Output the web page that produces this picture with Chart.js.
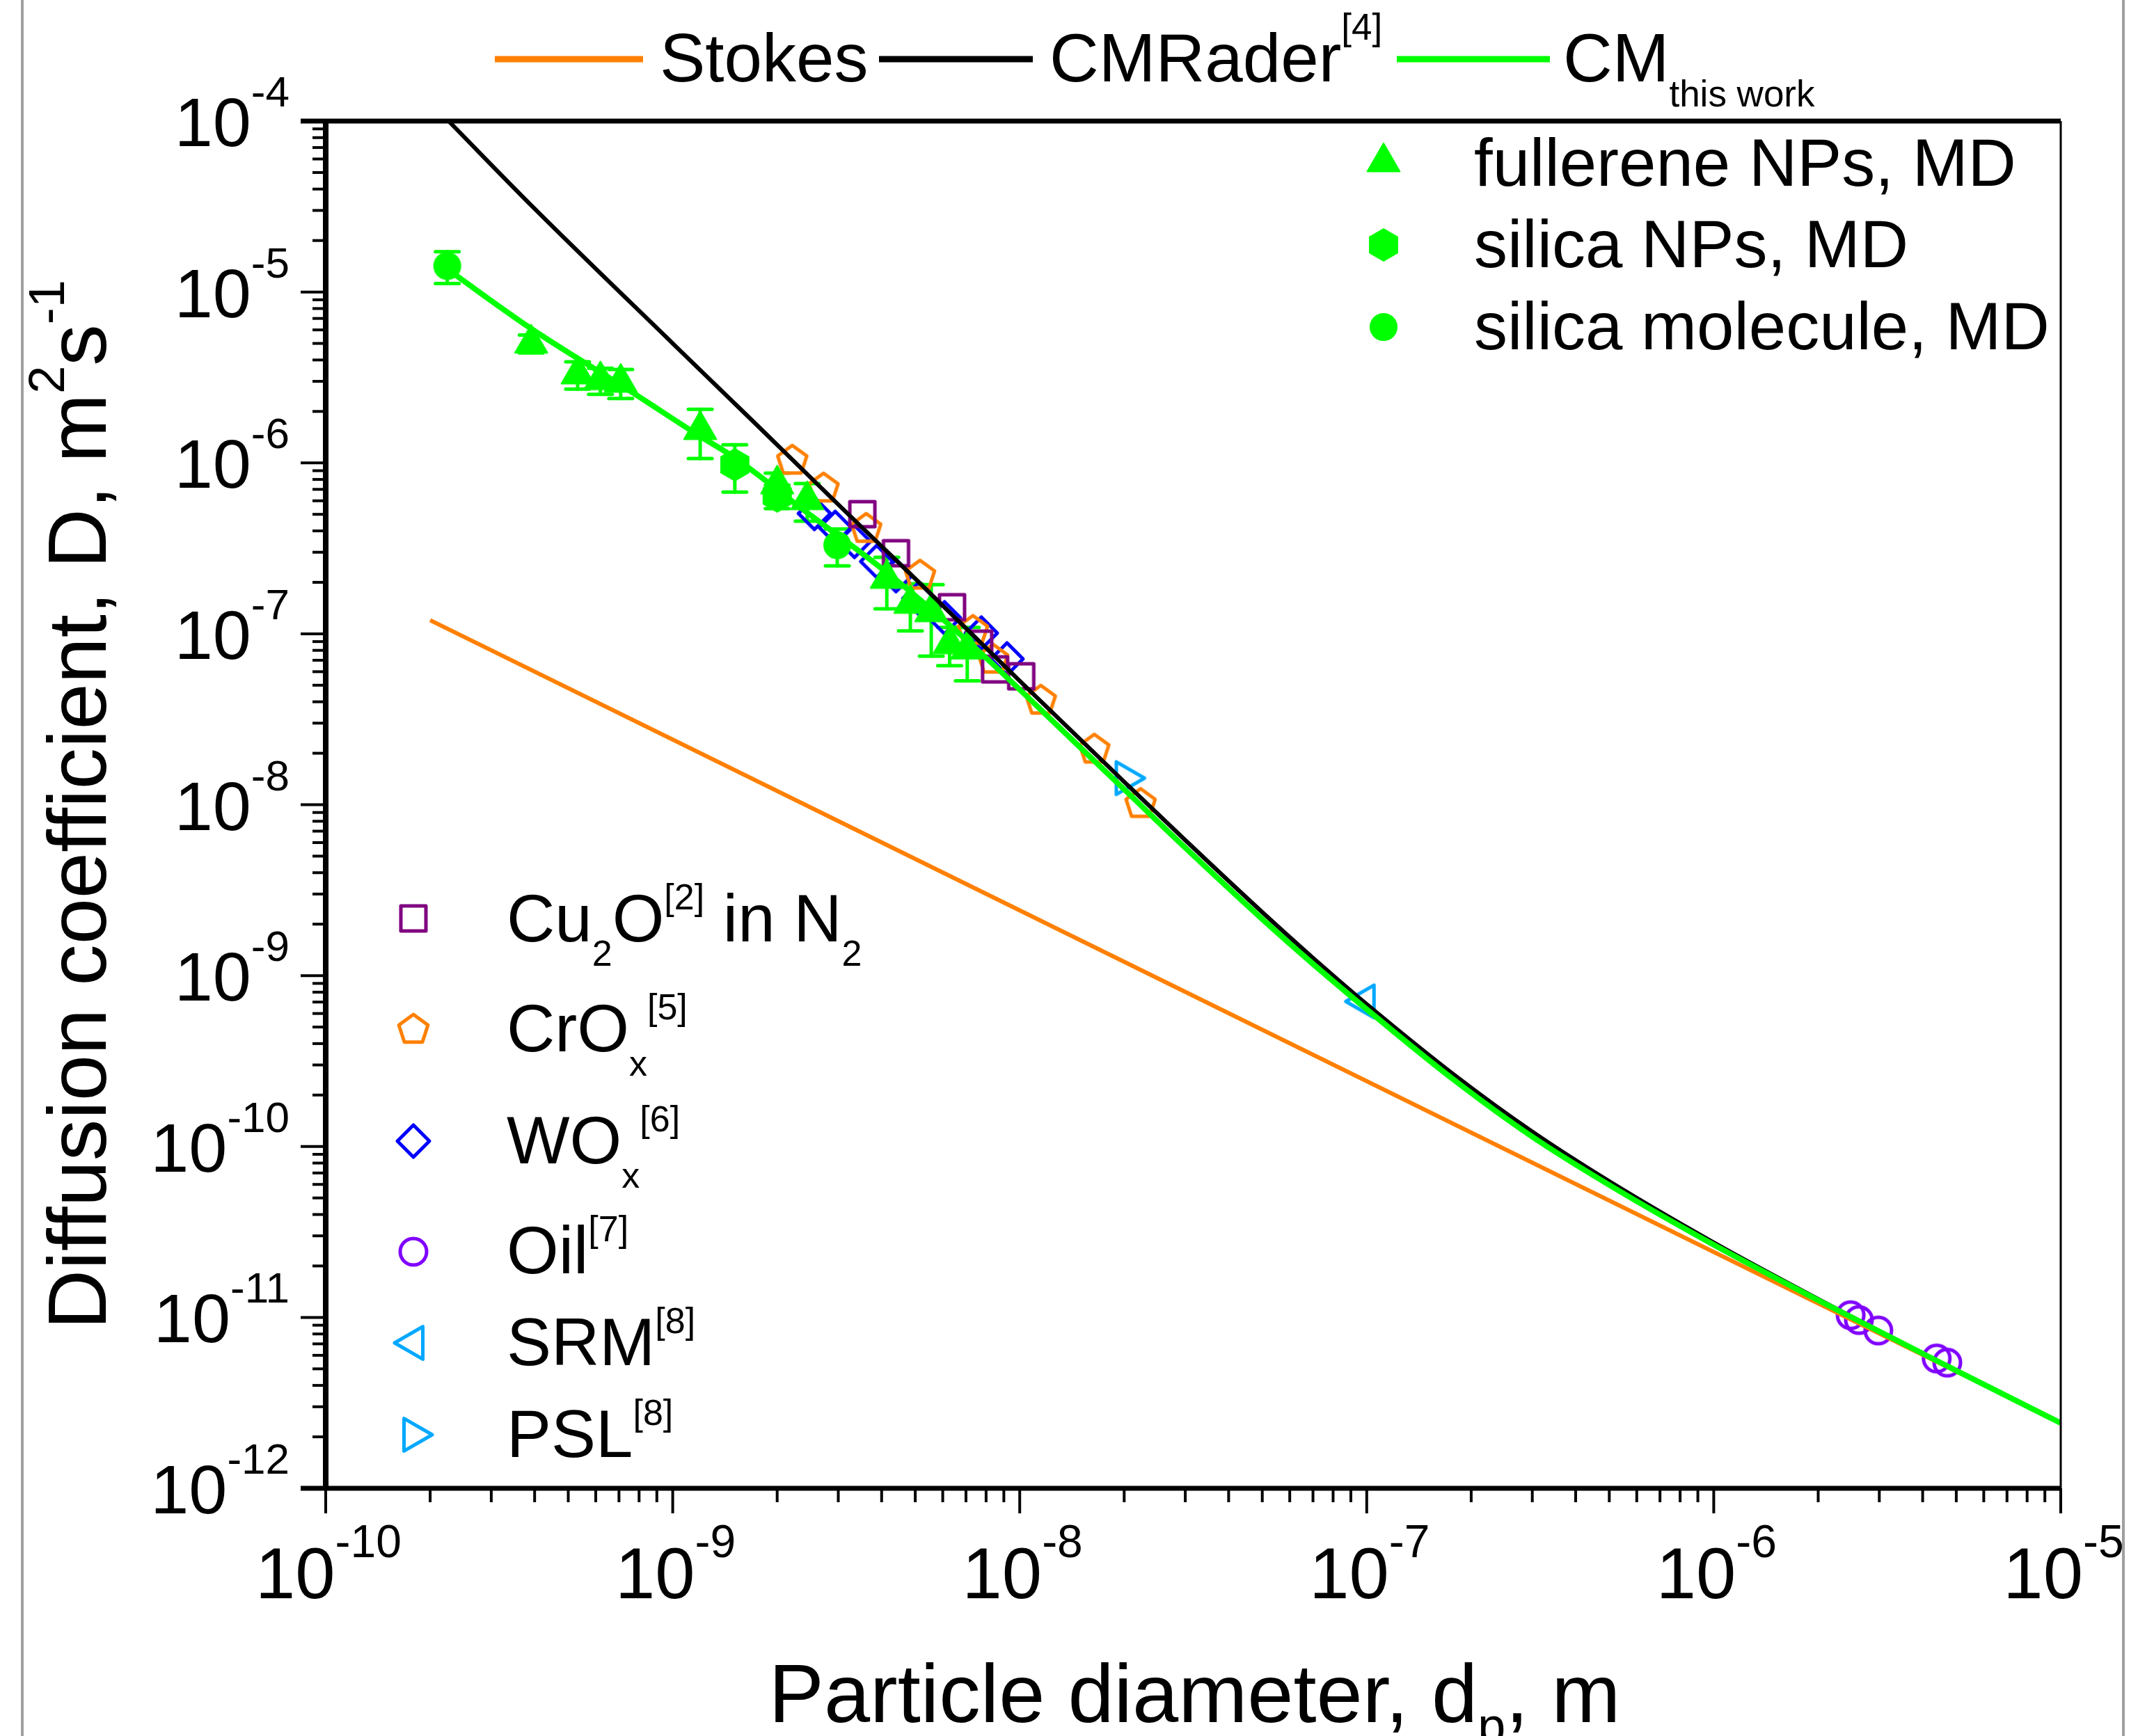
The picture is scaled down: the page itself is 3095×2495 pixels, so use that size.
<!DOCTYPE html>
<html>
<head>
<meta charset="utf-8">
<script src="https://cdn.jsdelivr.net/npm/chart.js@4.4.1/dist/chart.umd.min.js"></script>
<style>
  html, body { margin: 0; padding: 0; background: #fff; }
  #wrap { width: 3095px; height: 2495px; position: relative; }
</style>
</head>
<body>
<div id="wrap"><canvas id="myChart"></canvas></div>
<script>
// ---- values (d in m, D in m2/s) ----
const stokesD = [2.0e-10, 1.0e-5];
const stokesDiff = [1.2e-7, 2.42e-12];

const raderD = [2.26e-10, 3.98e-10, 1.0e-9, 1.69e-9, 3.0e-9, 5.0e-9, 1.0e-8, 2.0e-8, 3.0e-8, 5.0e-8, 7.0e-8, 1.0e-7, 1.82e-7, 3.0e-7, 5.0e-7, 1.0e-6, 2.0e-6, 5.0e-6, 1.0e-5];
const raderDiff = [1.0e-4, 3.1e-5, 5.0e-6, 1.78e-6, 5.7e-7, 2.1e-7, 5.3e-8, 1.36e-8, 6.2e-9, 2.35e-9, 1.27e-9, 6.8e-10, 2.55e-10, 1.22e-10, 6.25e-11, 2.74e-11, 1.28e-11, 4.9e-12, 2.42e-12];

const cmD = [2.24e-10, 3.91e-10, 7.59e-10, 1.18e-9, 1.51e-9, 2.3e-9, 4.25e-9, 7.4e-9, 1.41e-8, 2.0e-8, 3.0e-8, 5.0e-8, 7.0e-8, 1.0e-7, 1.74e-7, 3.0e-7, 5.0e-7, 1.0e-6, 2.0e-6, 5.0e-6, 1.0e-5];
const cmDiff = [1.36e-5, 6.1e-6, 2.61e-6, 1.46e-6, 1.07e-6, 5.6e-7, 2.19e-7, 8.35e-8, 2.42e-8, 1.23e-8, 5.6e-9, 2.14e-9, 1.17e-9, 6.35e-10, 2.55e-10, 1.14e-10, 5.95e-11, 2.66e-11, 1.26e-11, 4.88e-12, 2.41e-12];

const fullereneD = [3.91e-10, 5.32e-10, 6.19e-10, 7.08e-10, 1.20e-9, 2.0e-9, 2.44e-9, 4.14e-9, 4.84e-9, 5.56e-9, 6.28e-9, 7.06e-9];
const fullereneDiff = [5.0e-6, 3.3e-6, 3.05e-6, 2.95e-6, 1.56e-6, 7.5e-7, 6.06e-7, 2.1e-7, 1.5e-7, 1.34e-7, 8.7e-8, 8.1e-8];
const fullereneErr = [6e-7, 6e-7, 5.3e-7, 5.7e-7, 5e-7, 1.2e-7, 1.5e-7, 7e-8, 4.6e-8, 6e-8, 2.2e-8, 2.8e-8];

const silicaNpD = [1.51e-9, 2.0e-9];
const silicaNpDiff = [9.75e-7, 6.4e-7];
const silicaNpErr = [3e-7, 1e-7];

const silicaMolD = [2.24e-10, 2.98e-9];
const silicaMolDiff = [1.42e-5, 3.3e-7];
const silicaMolErr = [3e-6, 8e-8];

const cu2oD = [3.52e-9, 4.40e-9, 6.38e-9, 7.64e-9, 8.49e-9, 1.01e-8];
const cu2oDiff = [5.01e-7, 2.96e-7, 1.43e-7, 8.75e-8, 6.19e-8, 5.64e-8];

const croxD = [2.21e-9, 2.72e-9, 3.61e-9, 5.16e-9, 7.33e-9, 8.38e-9, 1.15e-8, 1.64e-8, 2.23e-8];
const croxDiff = [1.03e-6, 7.08e-7, 4.11e-7, 2.19e-7, 1.04e-7, 7.06e-8, 4.06e-8, 2.1e-8, 1.01e-8];

const woxD = [2.56e-9, 2.94e-9, 3.34e-9, 3.87e-9, 4.40e-9, 5.12e-9, 6.07e-9, 7.75e-9, 9.19e-9];
const woxDiff = [5.06e-7, 4.19e-7, 3.47e-7, 2.65e-7, 2.19e-7, 1.61e-7, 1.24e-7, 1.01e-7, 7.13e-8];

const oilD = [2.48e-6, 2.62e-6, 2.98e-6, 4.39e-6, 4.71e-6];
const oilDiff = [1.03e-11, 9.65e-12, 8.38e-12, 5.75e-12, 5.44e-12];

const srmD = [9.86e-8];
const srmDiff = [7.06e-10];
const pslD = [2.02e-8];
const pslDiff = [1.43e-8];

const xExponents = [-10, -9, -8, -7, -6, -5];
const yExponents = [-4, -5, -6, -7, -8, -9, -10, -11, -12];

// ---- colours ----
const ORANGE = '#ff8000', GREEN = '#00ff00', PURPLE = '#800080',
      BLUE = '#0000ff', VIOLET = '#8000ff', SKY = '#00a8ff';
const FONT = "'Liberation Sans', Arial, sans-serif";

function pts(xs, ys) {
  return xs.map((x, i) => ({ x: x, y: ys[i] }));
}

// little canvases used as point styles (and reused in the legends)
function marker(shape, r, color, filled, lw) {
  const size = Math.ceil(2 * (r + lw + 3));
  const c = document.createElement('canvas');
  c.width = c.height = size;
  const g = c.getContext('2d');
  const cx = size / 2, cy = size / 2;
  g.beginPath();
  if (shape === 'circle') {
    g.arc(cx, cy, r, 0, Math.PI * 2);
  } else if (shape === 'square') {
    g.rect(cx - r, cy - r, 2 * r, 2 * r);
  } else {
    const n = { tri: 3, triR: 3, triL: 3, diamond: 4, pentagon: 5, hexagon: 6 }[shape];
    const a0 = shape === 'triR' ? Math.PI / 2 : (shape === 'triL' ? -Math.PI / 2 : 0);
    for (let k = 0; k < n; k++) {
      const a = a0 + k * 2 * Math.PI / n;
      const px = cx + r * Math.sin(a), py = cy - r * Math.cos(a);
      if (k === 0) g.moveTo(px, py); else g.lineTo(px, py);
    }
    g.closePath();
  }
  g.lineJoin = 'round';
  if (filled) { g.fillStyle = color; g.fill(); }
  g.strokeStyle = color;
  g.lineWidth = lw;
  g.stroke();
  return c;
}

const mk = {
  fullerene: marker('tri', 27, GREEN, true, 2),
  silicaNp: marker('hexagon', 23, GREEN, true, 2),
  silicaMol: marker('circle', 19, GREEN, true, 2),
  cu2o: marker('square', 18, PURPLE, false, 5),
  crox: marker('pentagon', 22, ORANGE, false, 5),
  wox: marker('diamond', 23, BLUE, false, 5),
  oil: marker('circle', 19, VIOLET, false, 5),
  srm: marker('triL', 27, SKY, false, 5),
  psl: marker('triR', 27, SKY, false, 5)
};

function lineSet(label, xs, ys, color, w, order) {
  return { label: label, data: pts(xs, ys), showLine: true, borderColor: color, borderWidth: w,
           pointRadius: 0, cubicInterpolationMode: 'monotone', order: order };
}
function pointSet(label, xs, ys, style, r) {
  return { label: label, data: pts(xs, ys), showLine: false, pointStyle: style,
           pointRadius: r, order: 5 };
}

const datasets = [
  lineSet('CM this work', cmD, cmDiff, GREEN, 8, 0),
  lineSet('CMRader', raderD, raderDiff, '#000000', 6, 1),
  lineSet('Stokes', stokesD, stokesDiff, ORANGE, 6, 2),
  pointSet('fullerene NPs, MD', fullereneD, fullereneDiff, mk.fullerene, 25),
  pointSet('silica NPs, MD', silicaNpD, silicaNpDiff, mk.silicaNp, 22),
  pointSet('silica molecule, MD', silicaMolD, silicaMolDiff, mk.silicaMol, 19),
  pointSet('Cu2O', cu2oD, cu2oDiff, mk.cu2o, 20),
  pointSet('CrOx', croxD, croxDiff, mk.crox, 22),
  pointSet('WOx', woxD, woxDiff, mk.wox, 22),
  pointSet('Oil', oilD, oilDiff, mk.oil, 20),
  pointSet('SRM', srmD, srmDiff, mk.srm, 24),
  pointSet('PSL', pslD, pslDiff, mk.psl, 24)
];

const errSets = [
  { x: fullereneD, y: fullereneDiff, e: fullereneErr },
  { x: silicaNpD, y: silicaNpDiff, e: silicaNpErr },
  { x: silicaMolD, y: silicaMolDiff, e: silicaMolErr }
];

// text with super/subscripts, parts like {t:'2', sub:1} or {t:'[4]', sup:1}
function richText(ctx, parts, x, y, o) {
  let total = 0;
  parts.forEach(p => {
    ctx.font = (p.sup || p.sub ? o.small : o.size) + 'px ' + FONT;
    p.w = ctx.measureText(p.t).width;
    total += p.w;
  });
  let cx = o.align === 'center' ? x - total / 2 : (o.align === 'right' ? x - total : x);
  ctx.textAlign = 'left';
  ctx.textBaseline = 'alphabetic';
  ctx.fillStyle = '#000';
  parts.forEach(p => {
    ctx.font = (p.sup || p.sub ? o.small : o.size) + 'px ' + FONT;
    const dy = p.sup ? -o.up : (p.sub ? o.down : 0);
    ctx.fillText(p.t, cx, y + dy);
    cx += p.w;
  });
}

function seg(ctx, x1, y1, x2, y2) {
  ctx.beginPath(); ctx.moveTo(x1, y1); ctx.lineTo(x2, y2); ctx.stroke();
}

const errorBarPlugin = {
  id: 'errorBars',
  beforeDatasetsDraw(chart) {
    const ctx = chart.ctx, xs = chart.scales.x, ys = chart.scales.y;
    ctx.save();
    ctx.strokeStyle = GREEN;
    ctx.lineWidth = 5;
    ctx.lineCap = 'round';
    errSets.forEach(s => s.x.forEach((xv, i) => {
      const px = xs.getPixelForValue(xv);
      const top = ys.getPixelForValue(s.y[i] + s.e[i]);
      const bot = ys.getPixelForValue(s.y[i] - s.e[i]);
      seg(ctx, px, top, px, bot);
      seg(ctx, px - 17, top, px + 17, top);
      seg(ctx, px - 17, bot, px + 17, bot);
    }));
    ctx.restore();
  }
};

const axesPlugin = {
  id: 'axesAndLegends',
  afterDraw(chart) {
    const ctx = chart.ctx, a = chart.chartArea;
    const xs = chart.scales.x, ys = chart.scales.y;
    ctx.save();

    // grey page edges seen in the figure
    ctx.strokeStyle = '#a0a0a0';
    ctx.lineWidth = 4;
    seg(ctx, 32, 0, 32, chart.height);
    seg(ctx, 3051, 0, 3051, chart.height);

    // frame
    ctx.strokeStyle = '#000';
    ctx.lineCap = 'butt';
    ctx.lineWidth = 7;
    seg(ctx, a.left - 36, a.top, a.right, a.top);
    seg(ctx, a.left - 36, a.bottom, a.right, a.bottom);
    ctx.lineWidth = 8;
    seg(ctx, a.left, a.top - 3, a.left, a.bottom + 3);
    ctx.lineWidth = 3;
    seg(ctx, a.right, a.top, a.right, a.bottom);

    // ticks
    ctx.lineWidth = 4;
    xExponents.forEach(e => {
      for (let k = 1; k <= 9; k++) {
        const v = k * Math.pow(10, e);
        if (v > xs.max * 1.0001) break;
        const px = xs.getPixelForValue(v);
        seg(ctx, px, a.bottom, px, a.bottom + (k === 1 ? 36 : 20));
      }
      const px = xs.getPixelForValue(Math.pow(10, e));
      richText(ctx, [{ t: '10' }, { t: '-' + (-e), sup: 1 }], px + 4, 2297,
        { size: 103, small: 66, up: 59, align: 'center' });
    });
    yExponents.forEach(e => {
      for (let k = 1; k <= 9; k++) {
        const v = k * Math.pow(10, e);
        if (v > ys.max * 1.0001) break;
        const py = ys.getPixelForValue(v);
        seg(ctx, a.left, py, a.left - (k === 1 ? 36 : 19), py);
      }
      const py = ys.getPixelForValue(Math.pow(10, e));
      richText(ctx, [{ t: '10' }, { t: '-' + (-e), sup: 1 }], 416, py + 36,
        { size: 99, small: 62, up: 57, align: 'right' });
    });

    // axis titles
    richText(ctx, [{ t: 'Particle diameter, d' }, { t: 'p', sub: 1 }, { t: ', m' }],
      (a.left + a.right) / 2 + 2, 2475, { size: 119, small: 72, down: 30, align: 'center' });
    ctx.save();
    ctx.translate(152, (a.top + a.bottom) / 2);
    ctx.rotate(-Math.PI / 2);
    richText(ctx, [{ t: 'Diffusion coefficient, D, m' }, { t: '2', sup: 1 }, { t: 's' }, { t: '-1', sup: 1 }],
      0, 0, { size: 119, small: 72, up: 60, align: 'center' });
    ctx.restore();

    // top legend (lines)
    const top = { size: 98, small: 53, up: 60, down: 36 };
    ctx.lineWidth = 9;
    [[ORANGE, 711, 924], ['#000', 1263, 1484], [GREEN, 2007, 2227]].forEach(l => {
      ctx.strokeStyle = l[0];
      seg(ctx, l[1], 85, l[2], 85);
    });
    richText(ctx, [{ t: 'Stokes' }], 948, 117, top);
    richText(ctx, [{ t: 'CMRader' }, { t: '[4]', sup: 1 }], 1508, 117, top);
    richText(ctx, [{ t: 'CM' }, { t: 'this work', sub: 1 }], 2246, 117, top);

    // MD legend (upper right)
    const md = [[mk.fullerene, 233, 'fullerene NPs, MD', 267],
                [mk.silicaNp, 352, 'silica NPs, MD', 384],
                [mk.silicaMol, 470, 'silica molecule, MD', 502]];
    md.forEach(r => {
      ctx.drawImage(r[0], 1988 - r[0].width / 2, r[1] - r[0].height / 2);
      richText(ctx, [{ t: r[2] }], 2118, r[3], { size: 96 });
    });

    // experiments legend (lower left)
    const low = { size: 96, small: 52, up: 46, down: 35 };
    const ex = [
      [mk.cu2o, 1320, [{ t: 'Cu' }, { t: '2', sub: 1 }, { t: 'O' }, { t: '[2]', sup: 1 }, { t: ' in N' }, { t: '2', sub: 1 }], 1353],
      [mk.crox, 1480, [{ t: 'CrO' }, { t: 'x', sub: 1 }, { t: '[5]', sup: 1 }], 1511],
      [mk.wox, 1640, [{ t: 'WO' }, { t: 'x', sub: 1 }, { t: '[6]', sup: 1 }], 1672],
      [mk.oil, 1799, [{ t: 'Oil' }, { t: '[7]', sup: 1 }], 1830],
      [mk.srm, 1930, [{ t: 'SRM' }, { t: '[8]', sup: 1 }], 1962],
      [mk.psl, 2062, [{ t: 'PSL' }, { t: '[8]', sup: 1 }], 2094]
    ];
    ex.forEach(r => {
      ctx.drawImage(r[0], 594 - r[0].width / 2, r[1] - r[0].height / 2);
      richText(ctx, r[2], 728, r[3], low);
    });

    ctx.restore();
  }
};

const chart = new Chart(document.getElementById('myChart'), {
  type: 'scatter',
  data: { datasets: datasets },
  options: {
    responsive: true,
    maintainAspectRatio: false,
    animation: false,
    devicePixelRatio: 1,
    layout: { padding: { left: 468, right: 134, top: 174, bottom: 356 } },
    scales: {
      x: { type: 'logarithmic', min: 1e-10, max: 1e-5, display: false },
      y: { type: 'logarithmic', min: 1e-12, max: 1e-4, display: false }
    },
    plugins: { legend: { display: false }, tooltip: { enabled: false } }
  },
  plugins: [errorBarPlugin, axesPlugin]
});
</script>
</body>
</html>
